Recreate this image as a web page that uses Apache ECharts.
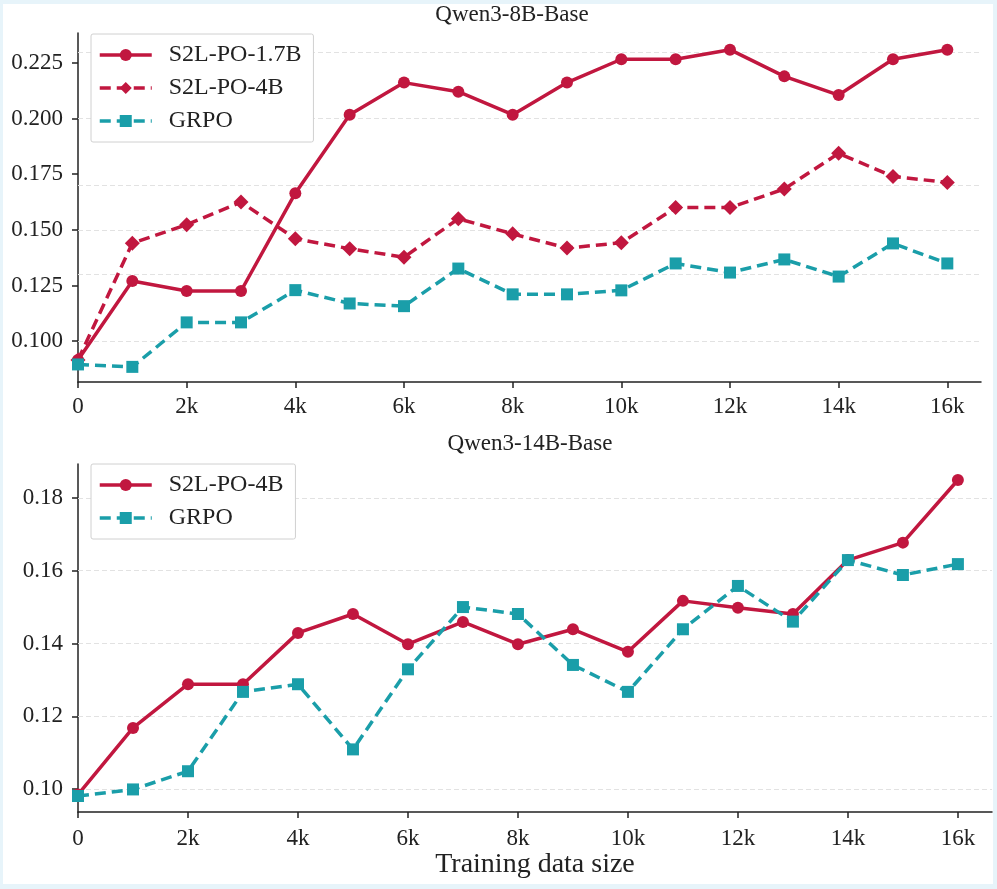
<!DOCTYPE html>
<html>
<head>
<meta charset="utf-8">
<title>S2L-PO vs GRPO</title>
<script src="https://cdn.jsdelivr.net/npm/echarts@6/dist/echarts.min.js"></script>
<style>
html, body { margin: 0; padding: 0; background: #e7f4fa; }
#main { position: absolute; left: 3px; top: 4px; width: 990px; height: 880px; background: #fff; }
</style>
</head>
<body>
<div id="main"></div>
<script>
// training data sizes (x)
var sizes = [0, 1000, 2000, 3000, 4000, 5000, 6000, 7000, 8000, 9000, 10000, 11000, 12000, 13000, 14000, 15000, 16000];
var xTicks = [0, 2000, 4000, 6000, 8000, 10000, 12000, 14000, 16000];
var ticks8b = [0.100, 0.125, 0.150, 0.175, 0.200, 0.225];
var ticks14b = [0.10, 0.12, 0.14, 0.16, 0.18];

// Qwen3-8B-Base
var po17b_8b = [0.0915, 0.127, 0.1225, 0.1225, 0.1665, 0.2018, 0.2162, 0.2121, 0.2018, 0.2162, 0.2267, 0.2267, 0.231, 0.219, 0.2106, 0.2267, 0.231];
var po4b_8b = [0.0915, 0.144, 0.1523, 0.1625, 0.146, 0.1415, 0.1377, 0.155, 0.1482, 0.1418, 0.1442, 0.160, 0.160, 0.1684, 0.1844, 0.174, 0.1713];
var grpo_8b = [0.0895, 0.0884, 0.1084, 0.1084, 0.1229, 0.1169, 0.1157, 0.1326, 0.121, 0.121, 0.1228, 0.1349, 0.1308, 0.1367, 0.129, 0.1439, 0.1349];

// Qwen3-14B-Base
var po4b_14b = [0.0985, 0.1168, 0.1288, 0.1288, 0.1429, 0.1481, 0.1398, 0.1459, 0.1398, 0.1439, 0.1377, 0.1517, 0.1498, 0.1481, 0.1629, 0.1677, 0.1849];
var grpo_14b = [0.0981, 0.0999, 0.1049, 0.1267, 0.1288, 0.1109, 0.1329, 0.150, 0.1481, 0.1341, 0.1267, 0.1439, 0.1558, 0.146, 0.1629, 0.1588, 0.1618];

var RED = '#c1173f';
var TEAL = '#1a9ea9';
var FONT = 'Liberation Serif';
var INK = '#222';

function pairs(vals) {
    return sizes.map(function (x, i) { return [x, vals[i]]; });
}

function xAxisOf(grid, margin) {
    return {
        gridIndex: grid, type: 'value', min: 0, max: 16620,
        axisLine: { show: true, lineStyle: { color: INK, width: 1.5 } },
        axisTick: { show: true, customValues: xTicks, length: 6, lineStyle: { color: INK, width: 1.5 } },
        axisLabel: {
            customValues: xTicks, margin: margin, color: INK, fontFamily: FONT, fontSize: 23,
            formatter: function (v) { return v === 0 ? '0' : (v / 1000) + 'k'; }
        },
        splitLine: { show: false }
    };
}

function yAxisOf(grid, min, max, ticks, digits) {
    return {
        gridIndex: grid, type: 'value', min: min, max: max,
        axisLine: { show: true, lineStyle: { color: INK, width: 1.5 } },
        axisTick: { show: true, customValues: ticks, length: 6, lineStyle: { color: INK, width: 1.5 } },
        axisLabel: {
            customValues: ticks, margin: 15, color: INK, fontFamily: FONT, fontSize: 23,
            formatter: function (v) { return v.toFixed(digits); }
        },
        splitLine: { show: false }
    };
}

// dashed horizontal gridlines at the tick values, kept behind the lines
function gridLines(grid, ticks) {
    return {
        type: 'line', xAxisIndex: grid, yAxisIndex: grid, data: [], z: 1, silent: true,
        markLine: {
            z: 1, symbol: 'none', silent: true, label: { show: false },
            lineStyle: { color: '#e2e2e2', type: [5, 3], width: 1 },
            data: ticks.map(function (v) { return { yAxis: v }; })
        }
    };
}

function lineSeries(name, grid, vals, color, dashed, symbol, size) {
    return {
        name: name, type: 'line', xAxisIndex: grid, yAxisIndex: grid,
        data: pairs(vals), z: 3,
        symbol: symbol, symbolSize: size, showSymbol: true,
        itemStyle: { color: color },
        lineStyle: { color: color, width: 3.5, type: dashed ? [11, 6] : 'solid' }
    };
}

function legendOf(names, top) {
    return {
        data: names, orient: 'vertical', left: 88, top: top,
        itemWidth: 52, itemHeight: 15, itemGap: 9,
        padding: [9, 12, 9, 7], selectedMode: false,
        borderColor: '#d0d0d0', borderWidth: 1, borderRadius: 2, backgroundColor: '#fff',
        lineStyle: { width: 3.5 },
        textStyle: { fontFamily: FONT, fontSize: 24, color: INK, padding: [0, 0, 0, 12] },
        formatter: function (n) { return n.replace(/^14B: /, ''); }
    };
}

var myChart = echarts.init(document.getElementById('main'));
var option = {
    animation: false,
    grid: [
        { left: 75, top: 29, width: 903, height: 349 },
        { left: 75, top: 460, width: 914, height: 348 }
    ],
    xAxis: [xAxisOf(0, 13), xAxisOf(1, 15)],
    yAxis: [
        yAxisOf(0, 0.0816, 0.2385, ticks8b, 3),
        yAxisOf(1, 0.0937, 0.1893, ticks14b, 2)
    ],
    legend: [
        legendOf(['S2L-PO-1.7B', 'S2L-PO-4B', 'GRPO'], 30),
        legendOf(['14B: S2L-PO-4B', '14B: GRPO'], 460)
    ],
    graphic: [
        { type: 'text', x: 509, y: 11, style: { text: 'Qwen3-8B-Base', font: '23px "Liberation Serif"', fill: INK, align: 'center', verticalAlign: 'middle' } },
        { type: 'text', x: 527, y: 440, style: { text: 'Qwen3-14B-Base', font: '23px "Liberation Serif"', fill: INK, align: 'center', verticalAlign: 'middle' } },
        { type: 'text', x: 532, y: 861, style: { text: 'Training data size', font: '28px "Liberation Serif"', fill: INK, align: 'center', verticalAlign: 'middle' } }
    ],
    series: [
        gridLines(0, ticks8b),
        gridLines(1, ticks14b),
        lineSeries('S2L-PO-1.7B', 0, po17b_8b, RED, false, 'circle', 12),
        lineSeries('S2L-PO-4B', 0, po4b_8b, RED, true, 'diamond', 15),
        lineSeries('GRPO', 0, grpo_8b, TEAL, true, 'rect', 12),
        lineSeries('14B: S2L-PO-4B', 1, po4b_14b, RED, false, 'circle', 12),
        lineSeries('14B: GRPO', 1, grpo_14b, TEAL, true, 'rect', 12)
    ]
};
myChart.setOption(option);
</script>
</body>
</html>
